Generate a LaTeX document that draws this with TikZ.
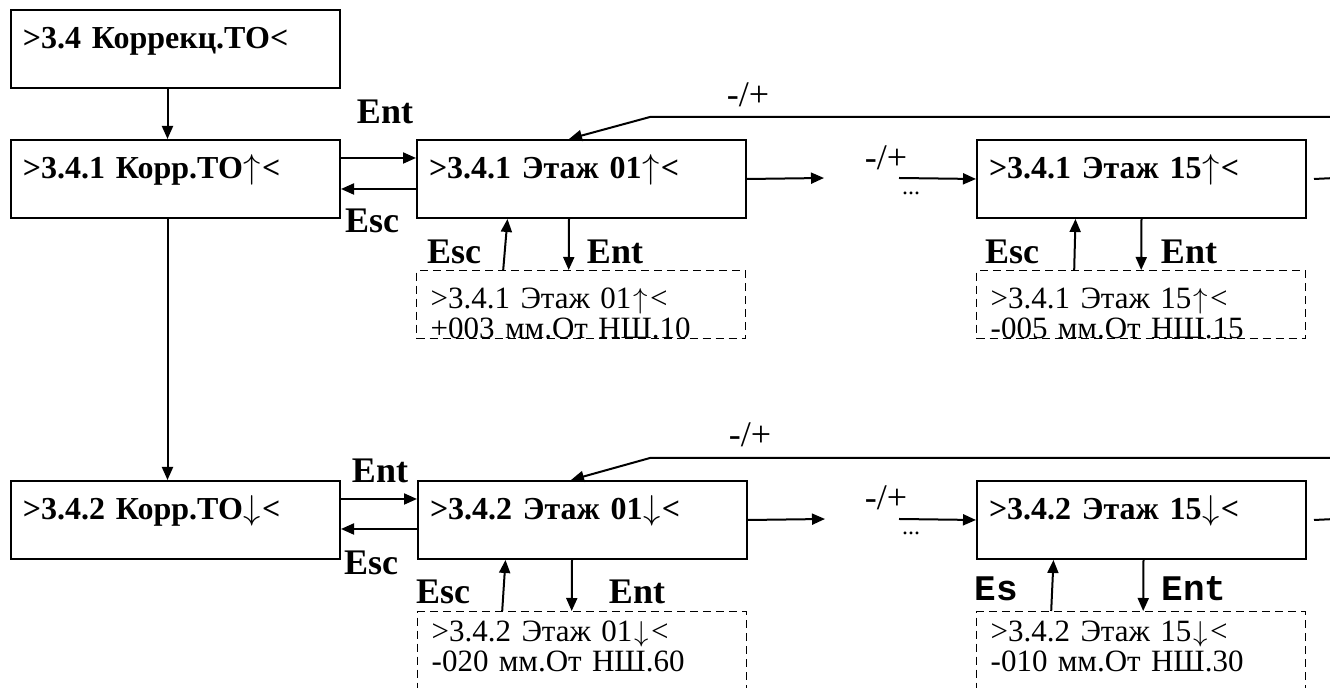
\documentclass[tikz,border=0pt]{standalone}
\usepackage{fontspec}
\setmainfont{Liberation Serif}
\newfontfamily\monofont{Liberation Mono}
\usetikzlibrary{arrows.meta}

\newcommand{\up}{\makebox[0.6em][c]{$\uparrow$}}
\newcommand{\dn}{\makebox[0.6em][c]{$\downarrow$}}

\tikzset{
  screen/.style={draw, line width=1pt, anchor=north west, minimum width=164.5pt,
    text width=152.5pt, inner xsep=6pt, inner ysep=0pt, text height=19.5pt,
    text depth=19.5pt, align=left, font=\fontsize{16}{18}\selectfont\bfseries},
  lcd/.style={draw, dash pattern=on 4pt off 2.5pt, line width=0.7pt, anchor=north west,
    minimum width=164.5pt, text width=150.5pt, inner xsep=7pt, inner ysep=0pt,
    text height=19pt, text depth=15pt, align=left, font=\fontsize{15.5}{15}\selectfont},
  key/.style={inner sep=0pt, font=\fontsize{18}{20}\selectfont\bfseries},
  keymono/.style={inner sep=0pt, font=\fontsize{18}{20}\selectfont\monofont\bfseries},
  pm/.style={inner sep=0pt, font=\fontsize{18}{20}\selectfont},
  dots/.style={inner sep=0pt, font=\fontsize{12}{14}\selectfont},
  arr/.style={line width=1pt, -{Triangle[length=6.5pt,width=5.5pt]}},
}

\begin{document}
\begin{tikzpicture}[x=0.5pt, y=-0.5pt]
  \useasboundingbox (0,0) rectangle (1330,688);
  \clip (0,0) rectangle (1330,688);

  % menu screens
  \node[screen] (A) at (10,9) {>3.4 Коррекц.ТО<};
  \node[screen] (B) at (10,139) {>3.4.1 Корр.ТО\up<};
  \node[screen] (F) at (10,480) {>3.4.2 Корр.ТО\dn<};
  \node[screen] (C) at (416,139) {>3.4.1 Этаж 01\up<};
  \node[screen] (D) at (976,139) {>3.4.1 Этаж 15\up<};
  \node[screen] (E) at (417,480) {>3.4.2 Этаж 01\dn<};
  \node[screen] (G) at (976,480) {>3.4.2 Этаж 15\dn<};

  % edit screens
  \node[lcd] (Cd) at (416,270) {>3.4.1 Этаж 01\up<\\+003 мм.От НШ.10};
  \node[lcd] (Dd) at (976,270) {>3.4.1 Этаж 15\up<\\-005 мм.От НШ.15};
  \node[lcd, text height=15pt, text depth=30pt] (Ed) at (417,611) {>3.4.2 Этаж 01\dn<\\-020 мм.От НШ.60};
  \node[lcd, text height=15pt, text depth=30pt] (Gd) at (976,611) {>3.4.2 Этаж 15\dn<\\-010 мм.От НШ.30};

  % left column
  \draw[arr] ([xshift=-4pt]A.south) -- ([xshift=-4pt]B.north);
  \draw[arr] ([xshift=-4pt]B.south) -- ([xshift=-4pt]F.north);

  % upper row
  \draw[arr] ([yshift=10.5pt]B.east) -- ([yshift=10.5pt]C.west);
  \draw[arr] ([yshift=-5pt]C.west) -- ([yshift=-5pt]B.east);
  \node[key] (entB) at (385,112) {Ent};
  \node[key] (escB) at (372,221) {Esc};
  \coordinate (Cr) at (824,178);
  \coordinate (Dl) at (899,178);
  \coordinate (Dr) at (1335,178);
  \draw[arr] (C.east) -- (Cr);
  \draw[arr] (Dl) -- (D.west);
  \draw[line width=1pt] ([xshift=3.5pt]D.east) -- (Dr);
  \node[pm] (pmD) at (886,158) {-/+};
  \node[dots] (dotsD) at (911,193) {...};
  \coordinate (Ctop) at (1335,117);
  \coordinate (Cbend) at (650,117);
  \draw[arr] (Ctop) -- (Cbend) -- ([xshift=-6.25pt]C.north);
  \node[pm] (pmC) at (748,95) {-/+};
  \draw[arr] ([xshift=-6.25pt]C.south) -- ([xshift=-6.25pt]Cd.north);
  \draw[arr] ([xshift=-39pt]Cd.north) -- ([xshift=-37pt]C.south);
  \node[key] (escC) at (454,252) {Esc};
  \node[key] (entC) at (615,252) {Ent};
  \draw[arr] (D.south) -- (Dd.north);
  \draw[arr] ([xshift=-33.5pt]Dd.north) -- ([xshift=-33pt]D.south);
  \node[key] (escD) at (1012,252) {Esc};
  \node[key] (entD) at (1189,252) {Ent};

  % lower row
  \draw[arr] ([yshift=10.5pt]F.east) -- ([yshift=10.5pt]E.west);
  \draw[arr] ([yshift=-4.5pt]E.west) -- ([yshift=-4.5pt]F.east);
  \node[key] (entF) at (380,471) {Ent};
  \node[key] (escF) at (371,563) {Esc};
  \coordinate (Er) at (825,519);
  \coordinate (Gl) at (899,519);
  \coordinate (Gr) at (1335,519);
  \draw[arr] (E.east) -- (Er);
  \draw[arr] (Gl) -- (G.west);
  \draw[line width=1pt] ([xshift=3.5pt]G.east) -- (Gr);
  \node[pm] (pmG) at (886,498) {-/+};
  \node[dots] (dotsG) at (911,533) {...};
  \coordinate (Etop) at (1335,458);
  \coordinate (Ebend) at (650,458);
  \draw[arr] (Etop) -- (Ebend) -- ([xshift=-5.75pt]E.north);
  \node[pm] (pmE) at (750,435) {-/+};
  \draw[arr] ([xshift=-5.25pt]E.south) -- ([xshift=-5.25pt]Ed.north);
  \draw[arr] ([xshift=-40pt]Ed.north) -- ([xshift=-38.5pt]E.south);
  \node[key] (escE) at (443,592) {Esc};
  \node[key] (entE) at (637,592) {Ent};
  \draw[arr] ([xshift=1pt]G.south) -- ([xshift=1pt]Gd.north);
  \draw[arr] ([xshift=-45pt]Gd.north) -- ([xshift=-44pt]G.south);
  \node[keymono] (escG) at (996,589) {Es};
  \node[keymono] (entG) at (1194,589) {Ent};
\end{tikzpicture}
\end{document}
